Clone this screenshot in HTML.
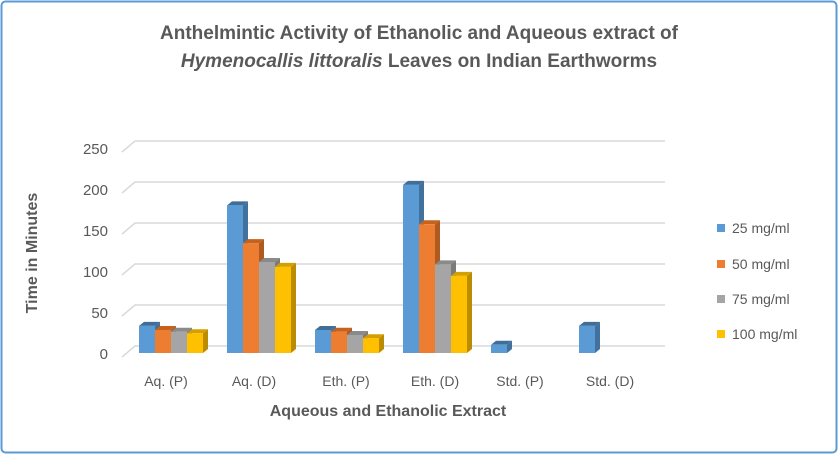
<!DOCTYPE html>
<html><head><style>
body{margin:0;background:#fff}
svg{display:block;font-family:"Liberation Sans",sans-serif}
</style></head><body>
<svg width="838" height="454" viewBox="0 0 838 454" xmlns="http://www.w3.org/2000/svg">
<rect x="1.5" y="1.5" width="835" height="451" rx="4" fill="#fff" stroke="#5b9bd5" stroke-width="2"/>
<text x="419" y="39" text-anchor="middle" font-size="19" font-weight="bold" fill="#595959">Anthelmintic Activity of Ethanolic and Aqueous extract of</text>
<text x="419" y="67" text-anchor="middle" font-size="19" font-weight="bold" fill="#595959"><tspan font-style="italic">Hymenocallis littoralis</tspan> Leaves on Indian Earthworms</text>
<g stroke="#d9d9d9" stroke-width="1.5" fill="none">
<path d="M122 152 L135 141 H665"/>
<path d="M122 193 L135 182 H665"/>
<path d="M122 234 L135 223 H665"/>
<path d="M122 275 L135 264 H665"/>
<path d="M122 316 L135 305 H665"/>
<path d="M122 357 L135 346 H665"/>
</g>
<g font-size="15" fill="#595959" text-anchor="end">
<text x="108" y="154">250</text><text x="108" y="195">200</text><text x="108" y="236">150</text>
<text x="108" y="277">100</text><text x="108" y="318">50</text><text x="108" y="359">0</text>
</g>
<text transform="translate(37,253) rotate(-90)" text-anchor="middle" font-size="16" font-weight="bold" fill="#595959">Time in Minutes</text>

<!-- blue -->
<g>
<g transform="translate(139,325.9)"><path d="M16 0l5 -4v27.1l-5 4z" fill="#41719c"/><path d="M0 0l5 -4h16l-5 4z" fill="#3f6e98"/><rect width="16" height="27.1" fill="#5b9bd5"/></g>
<g transform="translate(227,205.4)"><path d="M16 0l5 -4v147.6l-5 4z" fill="#41719c"/><path d="M0 0l5 -4h16l-5 4z" fill="#3f6e98"/><rect width="16" height="147.6" fill="#5b9bd5"/></g>
<g transform="translate(315,330)"><path d="M16 0l5 -4v23l-5 4z" fill="#41719c"/><path d="M0 0l5 -4h16l-5 4z" fill="#3f6e98"/><rect width="16" height="23" fill="#5b9bd5"/></g>
<g transform="translate(403,184.9)"><path d="M16 0l5 -4v168.1l-5 4z" fill="#41719c"/><path d="M0 0l5 -4h16l-5 4z" fill="#3f6e98"/><rect width="16" height="168.1" fill="#5b9bd5"/></g>
<g transform="translate(491,344.8)"><path d="M16 0l5 -4v8.2l-5 4z" fill="#41719c"/><path d="M0 0l5 -4h16l-5 4z" fill="#3f6e98"/><rect width="16" height="8.2" fill="#5b9bd5"/></g>
<g transform="translate(579,325.9)"><path d="M16 0l5 -4v27.1l-5 4z" fill="#41719c"/><path d="M0 0l5 -4h16l-5 4z" fill="#3f6e98"/><rect width="16" height="27.1" fill="#5b9bd5"/></g>
</g>
<!-- orange -->
<g>
<g transform="translate(155,330)"><path d="M16 0l5 -4v23l-5 4z" fill="#ae5a21"/><path d="M0 0l5 -4h16l-5 4z" fill="#c4621f"/><rect width="16" height="23" fill="#ed7d31"/></g>
<g transform="translate(243,243.1)"><path d="M16 0l5 -4v109.9l-5 4z" fill="#ae5a21"/><path d="M0 0l5 -4h16l-5 4z" fill="#c4621f"/><rect width="16" height="109.9" fill="#ed7d31"/></g>
<g transform="translate(331,331.7)"><path d="M16 0l5 -4v21.3l-5 4z" fill="#ae5a21"/><path d="M0 0l5 -4h16l-5 4z" fill="#c4621f"/><rect width="16" height="21.3" fill="#ed7d31"/></g>
<g transform="translate(419,224.3)"><path d="M16 0l5 -4v128.7l-5 4z" fill="#ae5a21"/><path d="M0 0l5 -4h16l-5 4z" fill="#c4621f"/><rect width="16" height="128.7" fill="#ed7d31"/></g>
</g>
<!-- gray -->
<g>
<g transform="translate(171,331.7)"><path d="M16 0l5 -4v21.3l-5 4z" fill="#7b7b7b"/><path d="M0 0l5 -4h16l-5 4z" fill="#8a8a8a"/><rect width="16" height="21.3" fill="#a5a5a5"/></g>
<g transform="translate(259,262)"><path d="M16 0l5 -4v91l-5 4z" fill="#7b7b7b"/><path d="M0 0l5 -4h16l-5 4z" fill="#8a8a8a"/><rect width="16" height="91" fill="#a5a5a5"/></g>
<g transform="translate(347,335)"><path d="M16 0l5 -4v18l-5 4z" fill="#7b7b7b"/><path d="M0 0l5 -4h16l-5 4z" fill="#8a8a8a"/><rect width="16" height="18" fill="#a5a5a5"/></g>
<g transform="translate(435,264.4)"><path d="M16 0l5 -4v88.6l-5 4z" fill="#7b7b7b"/><path d="M0 0l5 -4h16l-5 4z" fill="#8a8a8a"/><rect width="16" height="88.6" fill="#a5a5a5"/></g>
</g>
<!-- yellow -->
<g>
<g transform="translate(187,333.3)"><path d="M16 0l5 -4v19.7l-5 4z" fill="#bc8c00"/><path d="M0 0l5 -4h16l-5 4z" fill="#d4a000"/><rect width="16" height="19.7" fill="#ffc000"/></g>
<g transform="translate(275,266.9)"><path d="M16 0l5 -4v86.1l-5 4z" fill="#bc8c00"/><path d="M0 0l5 -4h16l-5 4z" fill="#d4a000"/><rect width="16" height="86.1" fill="#ffc000"/></g>
<g transform="translate(363,338.2)"><path d="M16 0l5 -4v14.8l-5 4z" fill="#bc8c00"/><path d="M0 0l5 -4h16l-5 4z" fill="#d4a000"/><rect width="16" height="14.8" fill="#ffc000"/></g>
<g transform="translate(451,275.9)"><path d="M16 0l5 -4v77.1l-5 4z" fill="#bc8c00"/><path d="M0 0l5 -4h16l-5 4z" fill="#d4a000"/><rect width="16" height="77.1" fill="#ffc000"/></g>
</g>

<g font-size="14" fill="#595959" text-anchor="middle">
<text x="166" y="386">Aq. (P)</text><text x="254" y="386">Aq. (D)</text><text x="346" y="386">Eth. (P)</text>
<text x="435" y="386">Eth. (D)</text><text x="520" y="386">Std. (P)</text><text x="610" y="386">Std. (D)</text>
</g>
<text x="388" y="416" text-anchor="middle" font-size="16" font-weight="bold" fill="#595959">Aqueous and Ethanolic Extract</text>
<g font-size="14" fill="#595959">
<rect x="717" y="224" width="8" height="8" fill="#5b9bd5"/><text x="732" y="233">25 mg/ml</text>
<rect x="717" y="260" width="8" height="8" fill="#ed7d31"/><text x="732" y="269">50 mg/ml</text>
<rect x="717" y="295" width="8" height="8" fill="#a5a5a5"/><text x="732" y="304">75 mg/ml</text>
<rect x="717" y="330" width="8" height="8" fill="#ffc000"/><text x="732" y="339">100 mg/ml</text>
</g>
</svg>
</body></html>
